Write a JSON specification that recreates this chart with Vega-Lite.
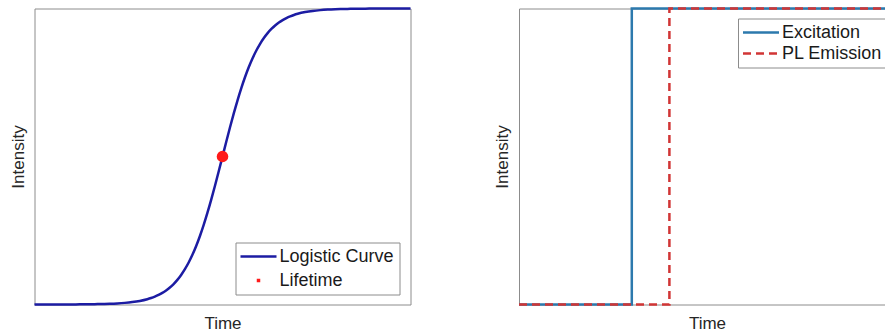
{
  "$schema": "https://vega.github.io/schema/vega-lite/v6.json",
  "padding": {"left": 8.5, "top": 2.5, "right": 0, "bottom": 0},
  "background": "white",
  "config": {
    "font": "Liberation Sans",
    "view": {"stroke": "#8c8c8c", "strokeWidth": 1},
    "axis": {"labels": false, "ticks": false, "domain": false, "grid": false, "titleFontSize": 17, "titleFontWeight": "normal", "titleColor": "#262626", "titleFont": "Liberation Sans"},
    "axisX": {"titlePadding": 11},
    "axisY": {"titlePadding": 7.5},
    "legend": {"labelFont": "Liberation Sans", "labelFontSize": 18, "labelColor": "#1a1a1a", "strokeColor": "#8c8c8c", "fillColor": "white", "padding": 5, "symbolSize": 100, "symbolStrokeWidth": 2.5, "symbolOffset": 9, "labelOffset": 12, "labelLimit": 0}
  },
  "datasets": {
    "logistic": [
      {"t": 0, "v": 0.00005}, {"t": 0.02, "v": 0.00007}, {"t": 0.04, "v": 0.0001}, {"t": 0.06, "v": 0.00015}, {"t": 0.08, "v": 0.00022},
      {"t": 0.1, "v": 0.00034}, {"t": 0.12, "v": 0.0005}, {"t": 0.14, "v": 0.00075}, {"t": 0.16, "v": 0.00111}, {"t": 0.18, "v": 0.00166},
      {"t": 0.2, "v": 0.00247}, {"t": 0.22, "v": 0.00368}, {"t": 0.24, "v": 0.00549}, {"t": 0.26, "v": 0.00816}, {"t": 0.28, "v": 0.01213},
      {"t": 0.3, "v": 0.01799}, {"t": 0.31, "v": 0.02188}, {"t": 0.32, "v": 0.0266}, {"t": 0.33, "v": 0.0323}, {"t": 0.34, "v": 0.03917},
      {"t": 0.35, "v": 0.04743}, {"t": 0.36, "v": 0.05732}, {"t": 0.37, "v": 0.06914}, {"t": 0.38, "v": 0.08317}, {"t": 0.39, "v": 0.09975},
      {"t": 0.4, "v": 0.1192}, {"t": 0.41, "v": 0.14185}, {"t": 0.42, "v": 0.16798}, {"t": 0.43, "v": 0.19782}, {"t": 0.44, "v": 0.23148},
      {"t": 0.45, "v": 0.26894}, {"t": 0.46, "v": 0.31003}, {"t": 0.47, "v": 0.35434}, {"t": 0.48, "v": 0.40131}, {"t": 0.49, "v": 0.45017},
      {"t": 0.5, "v": 0.5}, {"t": 0.51, "v": 0.54983}, {"t": 0.52, "v": 0.59869}, {"t": 0.53, "v": 0.64566}, {"t": 0.54, "v": 0.68997},
      {"t": 0.55, "v": 0.73106}, {"t": 0.56, "v": 0.76852}, {"t": 0.57, "v": 0.80218}, {"t": 0.58, "v": 0.83202}, {"t": 0.59, "v": 0.85815},
      {"t": 0.6, "v": 0.8808}, {"t": 0.61, "v": 0.90025}, {"t": 0.62, "v": 0.91683}, {"t": 0.63, "v": 0.93086}, {"t": 0.64, "v": 0.94268},
      {"t": 0.65, "v": 0.95257}, {"t": 0.66, "v": 0.96083}, {"t": 0.67, "v": 0.9677}, {"t": 0.68, "v": 0.9734}, {"t": 0.69, "v": 0.97812},
      {"t": 0.7, "v": 0.98201}, {"t": 0.72, "v": 0.98787}, {"t": 0.74, "v": 0.99184}, {"t": 0.76, "v": 0.99451}, {"t": 0.78, "v": 0.99632},
      {"t": 0.8, "v": 0.99753}, {"t": 0.82, "v": 0.99834}, {"t": 0.84, "v": 0.99889}, {"t": 0.86, "v": 0.99925}, {"t": 0.88, "v": 0.9995},
      {"t": 0.9, "v": 0.99966}, {"t": 0.92, "v": 0.99978}, {"t": 0.94, "v": 0.99985}, {"t": 0.96, "v": 0.9999}, {"t": 0.98, "v": 0.99993},
      {"t": 1, "v": 0.99995}
    ],
    "lifetime": [{"t": 0.5, "v": 0.5, "series": "Lifetime"}],
    "steps": [
      {"series": "Excitation", "i": 0, "t": 0, "v": 0},
      {"series": "Excitation", "i": 1, "t": 0.3, "v": 0},
      {"series": "Excitation", "i": 2, "t": 0.3, "v": 1},
      {"series": "Excitation", "i": 3, "t": 1, "v": 1},
      {"series": "PL Emission", "i": 0, "t": 0, "v": 0},
      {"series": "PL Emission", "i": 1, "t": 0.4, "v": 0},
      {"series": "PL Emission", "i": 2, "t": 0.4, "v": 1},
      {"series": "PL Emission", "i": 3, "t": 1, "v": 1}
    ]
  },
  "spacing": 76.5,
  "resolve": {"scale": {"color": "independent", "strokeDash": "independent"}, "legend": {"color": "independent", "strokeDash": "independent"}},
  "hconcat": [
    {
      "width": 376,
      "height": 296,
      "layer": [
        {
          "data": {"name": "logistic"},
          "transform": [{"calculate": "'Logistic Curve'", "as": "series"}],
          "mark": {"type": "line", "strokeWidth": 2.5, "interpolate": "monotone"},
          "encoding": {
            "x": {"field": "t", "type": "quantitative", "scale": {"domain": [0, 1], "nice": false, "zero": false}, "title": "Time"},
            "y": {"field": "v", "type": "quantitative", "scale": {"domain": [0, 1], "nice": false}, "title": "Intensity"},
            "color": {
              "field": "series", "type": "nominal",
              "scale": {"domain": ["Logistic Curve", "Lifetime"], "range": ["#1c1ca3", "#ff1a1a"]},
              "legend": {
                "title": null, "orient": "none", "legendX": 201, "legendY": 234, "rowPadding": 6,
                "symbolType": "M-3.6,0H3.6",
                "encode": {"symbols": {"update": {
                  "shape": {"signal": "datum.value === 'Lifetime' ? 'M-0.1,-0.1H0.1V0.1H-0.1Z' : 'M-3.6,0H3.6'"},
                  "fill": {"signal": "datum.value === 'Lifetime' ? '#ff4040' : 'transparent'"},
                  "stroke": {"signal": "datum.value === 'Lifetime' ? 'transparent' : '#1c1ca3'"},
                  "strokeWidth": {"value": 2.5},
                  "opacity": {"value": 1}
                }}}
              }
            }
          }
        },
        {
          "data": {"name": "lifetime"},
          "mark": {"type": "point", "filled": true, "size": 135, "opacity": 1},
          "encoding": {
            "x": {"field": "t", "type": "quantitative"},
            "y": {"field": "v", "type": "quantitative"},
            "color": {"field": "series", "type": "nominal"}
          }
        }
      ]
    },
    {
      "width": 376,
      "height": 296,
      "data": {"name": "steps"},
      "mark": {"type": "line", "strokeWidth": 2.5},
      "encoding": {
        "x": {"field": "t", "type": "quantitative", "scale": {"domain": [0, 1], "nice": false, "zero": false}, "title": "Time"},
        "y": {"field": "v", "type": "quantitative", "scale": {"domain": [0, 1], "nice": false}, "title": "Intensity"},
        "order": {"field": "i", "type": "quantitative"},
        "color": {
          "field": "series", "type": "nominal",
          "scale": {"domain": ["Excitation", "PL Emission"], "range": ["#2c79ad", "#d13535"]},
          "legend": {"title": null, "orient": "none", "legendX": 219, "legendY": 10, "rowPadding": 3, "symbolType": "M-3.6,0H3.6"}
        },
        "strokeDash": {
          "field": "series", "type": "nominal",
          "scale": {"domain": ["Excitation", "PL Emission"], "range": [[1, 0], [8, 5]]},
          "legend": {"title": null, "orient": "none", "legendX": 219, "legendY": 10, "rowPadding": 3, "symbolType": "M-3.6,0H3.6"}
        }
      }
    }
  ]
}
